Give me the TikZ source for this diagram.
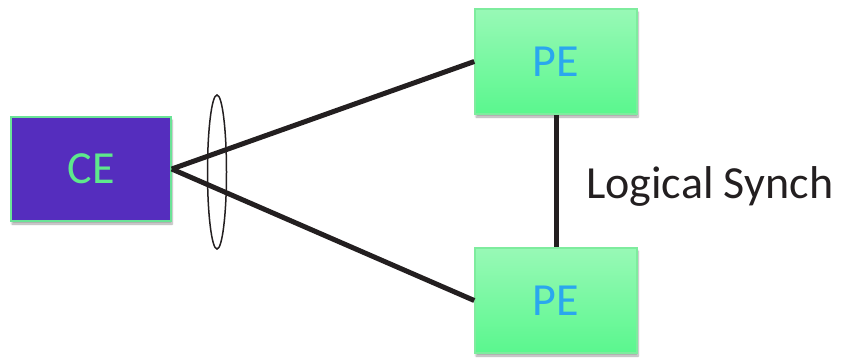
\documentclass[tikz,border=0pt]{standalone}
\usepackage{fontspec}
\setmainfont{Carlito}
\usetikzlibrary{shadows.blur,shapes.geometric}
\definecolor{cefill}{HTML}{552DBE}
\definecolor{ceborder}{HTML}{6BE397}
\definecolor{cetext}{HTML}{5EE88C}
\definecolor{petop}{HTML}{98F9B6}
\definecolor{pebot}{HTML}{5AF78E}
\definecolor{peborder}{HTML}{7EEC9E}
\definecolor{petext}{HTML}{2AA7EE}
\definecolor{linecol}{HTML}{231F20}
\tikzset{
  box/.style={rectangle, line width=1.5pt, inner sep=0pt, font=\fontsize{46}{50}\selectfont,
    blur shadow={shadow xshift=1pt, shadow yshift=-3pt, shadow blur steps=6, shadow opacity=35}},
  cebox/.style={box, draw=ceborder, fill=cefill, text=cetext, minimum width=160pt, minimum height=104pt},
  pebox/.style={box, draw=peborder, top color=petop, bottom color=pebot, text=petext, minimum width=162pt, minimum height=105pt},
  link/.style={draw=linecol, line width=5pt},
  lbl/.style={font=\fontsize{46}{50}\selectfont, text=linecol, anchor=west, inner sep=0pt}
}
\begin{document}
\begin{tikzpicture}[x=1pt,y=-1pt]
\useasboundingbox (0,0) rectangle (849,357);
\node[cebox] (ce) at (91,169) {CE};
\node[pebox] (pe1) at (556,61.5) {PE};
\node[pebox] (pe2) at (556,300.5) {PE};
\draw[link] (ce.east) -- (pe1.west);
\draw[link] (ce.east) -- (pe2.west);
\draw[link, line cap=butt] (pe1.south) -- (pe2.north);
\node[draw=linecol, line width=1.5pt, ellipse, minimum width=19pt, minimum height=154pt, inner sep=0pt] (lag) at (217,172) {};
\node[lbl] (sync) at (586,186) {Logical Synch};
\end{tikzpicture}
\end{document}
